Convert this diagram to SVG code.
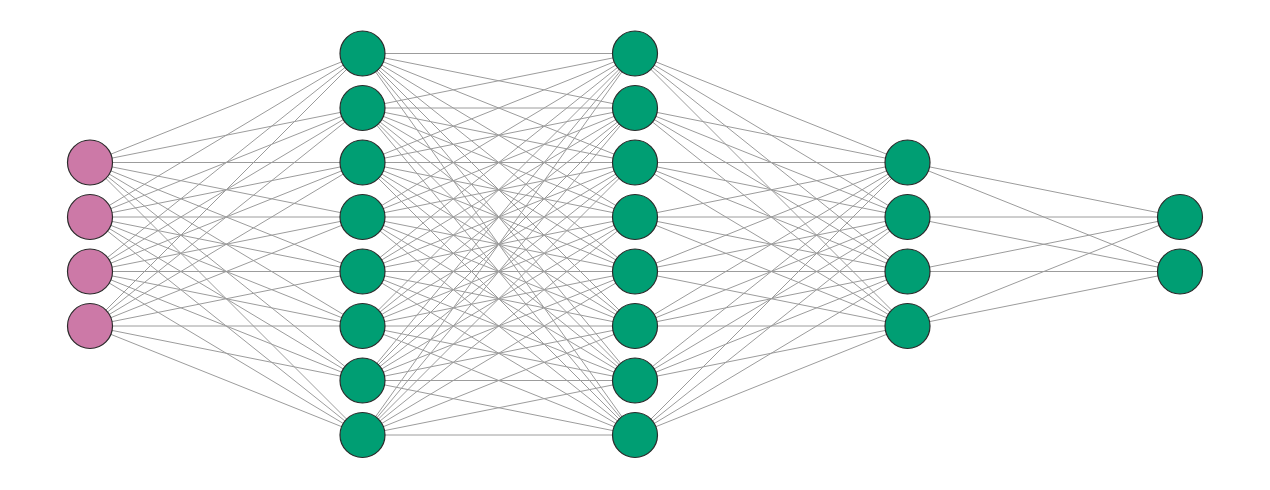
<svg xmlns="http://www.w3.org/2000/svg" width="1270" height="490" viewBox="0 0 1270 490">
<style>
.e{stroke:#9c9c9c;stroke-width:1;fill:none}
.n{stroke:#2b2b2b;stroke-width:1.2}
.in{fill:#CC79A7}
.h{fill:#009E73}
</style>
<rect width="1270" height="490" fill="#ffffff"/>
<g id="connectors">
<path class="e" d="M90 162.5L362.5 53.5M90 162.5L362.5 108M90 162.5L362.5 162.5M90 162.5L362.5 217M90 162.5L362.5 271.5M90 162.5L362.5 326M90 162.5L362.5 380.5M90 162.5L362.5 435
M90 217L362.5 53.5M90 217L362.5 108M90 217L362.5 162.5M90 217L362.5 217M90 217L362.5 271.5M90 217L362.5 326M90 217L362.5 380.5M90 217L362.5 435
M90 271.5L362.5 53.5M90 271.5L362.5 108M90 271.5L362.5 162.5M90 271.5L362.5 217M90 271.5L362.5 271.5M90 271.5L362.5 326M90 271.5L362.5 380.5M90 271.5L362.5 435
M90 326L362.5 53.5M90 326L362.5 108M90 326L362.5 162.5M90 326L362.5 217M90 326L362.5 271.5M90 326L362.5 326M90 326L362.5 380.5M90 326L362.5 435"/>
<path class="e" d="M362.5 53.5L635 53.5M362.5 53.5L635 108M362.5 53.5L635 162.5M362.5 53.5L635 217M362.5 53.5L635 271.5M362.5 53.5L635 326M362.5 53.5L635 380.5M362.5 53.5L635 435
M362.5 108L635 53.5M362.5 108L635 108M362.5 108L635 162.5M362.5 108L635 217M362.5 108L635 271.5M362.5 108L635 326M362.5 108L635 380.5M362.5 108L635 435
M362.5 162.5L635 53.5M362.5 162.5L635 108M362.5 162.5L635 162.5M362.5 162.5L635 217M362.5 162.5L635 271.5M362.5 162.5L635 326M362.5 162.5L635 380.5M362.5 162.5L635 435
M362.5 217L635 53.5M362.5 217L635 108M362.5 217L635 162.5M362.5 217L635 217M362.5 217L635 271.5M362.5 217L635 326M362.5 217L635 380.5M362.5 217L635 435
M362.5 271.5L635 53.5M362.5 271.5L635 108M362.5 271.5L635 162.5M362.5 271.5L635 217M362.5 271.5L635 271.5M362.5 271.5L635 326M362.5 271.5L635 380.5M362.5 271.5L635 435
M362.5 326L635 53.5M362.5 326L635 108M362.5 326L635 162.5M362.5 326L635 217M362.5 326L635 271.5M362.5 326L635 326M362.5 326L635 380.5M362.5 326L635 435
M362.5 380.5L635 53.5M362.5 380.5L635 108M362.5 380.5L635 162.5M362.5 380.5L635 217M362.5 380.5L635 271.5M362.5 380.5L635 326M362.5 380.5L635 380.5M362.5 380.5L635 435
M362.5 435L635 53.5M362.5 435L635 108M362.5 435L635 162.5M362.5 435L635 217M362.5 435L635 271.5M362.5 435L635 326M362.5 435L635 380.5M362.5 435L635 435"/>
<path class="e" d="M635 53.5L907.5 162.5M635 53.5L907.5 217M635 53.5L907.5 271.5M635 53.5L907.5 326
M635 108L907.5 162.5M635 108L907.5 217M635 108L907.5 271.5M635 108L907.5 326
M635 162.5L907.5 162.5M635 162.5L907.5 217M635 162.5L907.5 271.5M635 162.5L907.5 326
M635 217L907.5 162.5M635 217L907.5 217M635 217L907.5 271.5M635 217L907.5 326
M635 271.5L907.5 162.5M635 271.5L907.5 217M635 271.5L907.5 271.5M635 271.5L907.5 326
M635 326L907.5 162.5M635 326L907.5 217M635 326L907.5 271.5M635 326L907.5 326
M635 380.5L907.5 162.5M635 380.5L907.5 217M635 380.5L907.5 271.5M635 380.5L907.5 326
M635 435L907.5 162.5M635 435L907.5 217M635 435L907.5 271.5M635 435L907.5 326"/>
<path class="e" d="M907.5 162.5L1180 217M907.5 162.5L1180 271.5M907.5 217L1180 217M907.5 217L1180 271.5M907.5 271.5L1180 217M907.5 271.5L1180 271.5M907.5 326L1180 217M907.5 326L1180 271.5"/>
</g>
<g id="input-1"><circle class="n in" cx="90" cy="162.5" r="22.5"/></g>
<g id="input-2"><circle class="n in" cx="90" cy="217" r="22.5"/></g>
<g id="input-3"><circle class="n in" cx="90" cy="271.5" r="22.5"/></g>
<g id="input-4"><circle class="n in" cx="90" cy="326" r="22.5"/></g>
<g id="h1-1"><circle class="n h" cx="362.5" cy="53.5" r="22.5"/></g>
<g id="h1-2"><circle class="n h" cx="362.5" cy="108" r="22.5"/></g>
<g id="h1-3"><circle class="n h" cx="362.5" cy="162.5" r="22.5"/></g>
<g id="h1-4"><circle class="n h" cx="362.5" cy="217" r="22.5"/></g>
<g id="h1-5"><circle class="n h" cx="362.5" cy="271.5" r="22.5"/></g>
<g id="h1-6"><circle class="n h" cx="362.5" cy="326" r="22.5"/></g>
<g id="h1-7"><circle class="n h" cx="362.5" cy="380.5" r="22.5"/></g>
<g id="h1-8"><circle class="n h" cx="362.5" cy="435" r="22.5"/></g>
<g id="h2-1"><circle class="n h" cx="635" cy="53.5" r="22.5"/></g>
<g id="h2-2"><circle class="n h" cx="635" cy="108" r="22.5"/></g>
<g id="h2-3"><circle class="n h" cx="635" cy="162.5" r="22.5"/></g>
<g id="h2-4"><circle class="n h" cx="635" cy="217" r="22.5"/></g>
<g id="h2-5"><circle class="n h" cx="635" cy="271.5" r="22.5"/></g>
<g id="h2-6"><circle class="n h" cx="635" cy="326" r="22.5"/></g>
<g id="h2-7"><circle class="n h" cx="635" cy="380.5" r="22.5"/></g>
<g id="h2-8"><circle class="n h" cx="635" cy="435" r="22.5"/></g>
<g id="h3-1"><circle class="n h" cx="907.5" cy="162.5" r="22.5"/></g>
<g id="h3-2"><circle class="n h" cx="907.5" cy="217" r="22.5"/></g>
<g id="h3-3"><circle class="n h" cx="907.5" cy="271.5" r="22.5"/></g>
<g id="h3-4"><circle class="n h" cx="907.5" cy="326" r="22.5"/></g>
<g id="out-1"><circle class="n h" cx="1180" cy="217" r="22.5"/></g>
<g id="out-2"><circle class="n h" cx="1180" cy="271.5" r="22.5"/></g>
</svg>
